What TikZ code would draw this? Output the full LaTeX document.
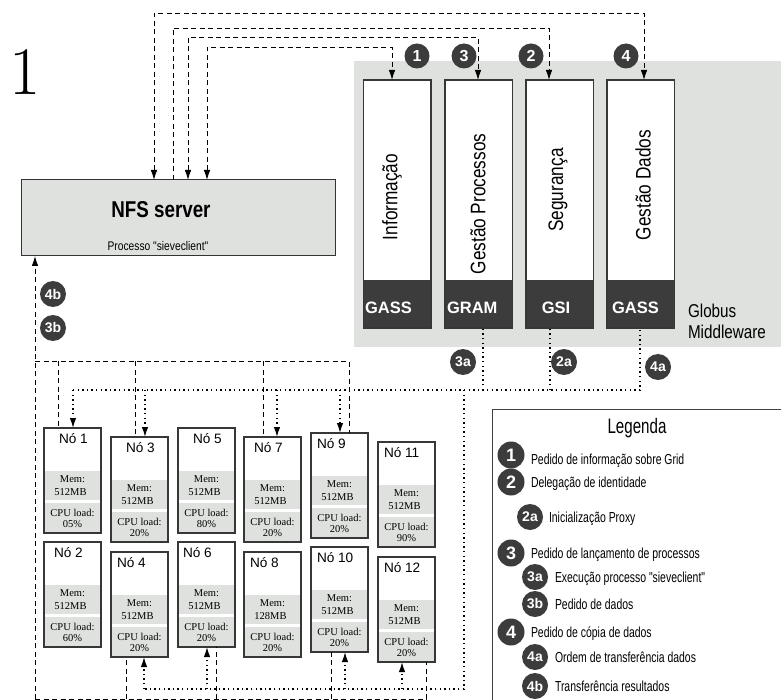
\documentclass[tikz,border=0pt]{standalone}
\usepackage{fontspec}
\usetikzlibrary{arrows.meta}
\newfontfamily\farial{Liberation Sans}
\newfontfamily\fnarrow[FakeStretch=0.82]{Liberation Sans}
\newfontfamily\fnarrower[FakeStretch=0.72]{Liberation Sans}
\newfontfamily\fserif{Liberation Serif}
\newcommand\fsz[1]{\fontsize{#1}{#1}\selectfont}
\definecolor{panel}{RGB}{222,225,222}
\definecolor{dark}{RGB}{60,60,60}
\definecolor{edge}{RGB}{55,55,55}

\tikzset{
  every node/.style={inner sep=0pt, outer sep=0pt},
  >={Latex[length=10pt,width=6.5pt]},
  dl/.style={draw=black, line width=0.9pt, dash pattern=on 5pt off 3.5pt},
  dt/.style={draw=black, line width=1.3pt, dash pattern=on 1.4pt off 3.2pt},
  frame/.style={draw=edge, line width=1.3pt},
  cbox/.style={fill=white, minimum width=57pt, minimum height=105pt, anchor=north west},
  gcol/.style={fill=white, minimum width=67.5pt, minimum height=248pt, anchor=north west},
  badge/.style={circle, fill=dark, text=white, minimum size=25pt, font=\farial\bfseries\fsz{16}},
  sbadge/.style={circle, fill=dark, text=white, minimum size=26pt, font=\farial\bfseries\fsz{14}},
  lbadge/.style={circle, fill=dark, text=white, minimum size=27pt, font=\farial\bfseries\fsz{18}},
  ntitle/.style={anchor=base west, font=\farial\fsz{13.6}},
  small/.style={anchor=base, font=\fserif\fsz{10.5}},
  coltext/.style={rotate=90, font=\fnarrow\fsz{21}},
  gl/.style={anchor=base west, text=white, font=\farial\bfseries\fsz{16.5}},
  legtext/.style={anchor=base west, font=\fnarrower\fsz{14.5}},
}

% one cluster machine: name, left, top, title, title offset, memory, load
\newcommand\cnode[7]{%
  \node[cbox] (#1) at (#2,#3) {};
  \fill[panel] ([yshift=-43pt]#1.north west) rectangle ([yshift=-72pt]#1.north east);
  \fill[panel] ([yshift=-75pt]#1.north west) rectangle (#1.south east);
  \draw[frame] (#1.north west) rectangle (#1.south east);
  \node[ntitle] (#1t) at ([xshift=#5pt,yshift=-15pt]#1.north west) {#4};
  \node[small] (#1m) at ([yshift=-54pt]#1.north) {Mem:};
  \node[small] (#1v) at ([xshift=-2pt,yshift=-67pt]#1.north) {#6};
  \node[small] (#1c) at ([yshift=-88pt]#1.north) {CPU load:};
  \node[small] (#1p) at ([yshift=-99pt]#1.north) {#7};
}

% one Globus service column with its dark protocol band
\newcommand\gnode[2]{%
  \node[gcol] (#1) at (#2,80) {};
  \fill[dark] ([yshift=-200pt]#1.north west) rectangle (#1.south east);
  \draw[draw=edge, line width=1.2pt] (#1.north west) rectangle (#1.south east);
}

\begin{document}
\begin{tikzpicture}[x=1pt,y=-1pt]
\useasboundingbox (0,0) rectangle (781,700);

% big figure number
\node[font=\fsz{68}] (fig) at (25,72) {1};

% Globus middleware panel
\node[fill=panel, minimum width=427pt, minimum height=286pt, anchor=north west] (globus) at (354,61) {};
\gnode{c1}{363.5}
\gnode{c2}{445}
\gnode{c3}{526}
\gnode{c4}{607}
\node[coltext] (c1t) at (392,197) {Informação};
\node[coltext] (c2t) at (478,204) {Gestão Processos};
\node[coltext] (c3t) at (558,190) {Segurança};
\node[coltext] (c4t) at (643,185) {Gestão Dados};
\node[gl] (c1l) at (365,313) {GASS};
\node[gl] (c2l) at (447,313) {GRAM};
\node[gl, anchor=base] (c3l) at (556,313) {GSI};
\node[gl] (c4l) at (612,313) {GASS};
\node[anchor=base west, font=\fnarrow\fsz{18.6}] (gl1) at (688,318) {Globus};
\node[anchor=base west, font=\fnarrow\fsz{18.6}] (gl2) at (688,338) {Middleware};

\node[badge] (b1) at (417,56) {1};
\node[badge] (b3) at (464,56) {3};
\node[badge] (b2) at (531,56) {2};
\node[badge] (b4) at (626,56) {4};

% NFS server
\node[fill=panel, draw=black!80, line width=1pt, minimum width=314pt, minimum height=76pt, anchor=north west] (nfs) at (21,180) {};
\node[anchor=base, font=\fnarrow\bfseries\fsz{22.9}] (nfst) at (161,218) {NFS server};
\node[anchor=base, font=\fnarrow\fsz{12.5}] (nfsp) at (158,251) {Processo "sieveclient"};

% requests from the NFS server to the Globus services
\coordinate (ka) at (154,13);
\coordinate (kb) at (173,28);
\coordinate (kc) at (188,37);
\coordinate (kd) at (207,47);
\coordinate (ga) at (644,13);
\coordinate (gb) at (549,28);
\coordinate (gc) at (478,37);
\coordinate (gd) at (392,47);
\draw[dl,<->] (ka |- nfs.north) -- (ka) -- (ga) -- (ga |- c4.north);
\draw[dl,->] (kb |- nfs.north) -- (kb) -- (gb) -- (gb |- c3.north);
\draw[dl,<->] (kc |- nfs.north) -- (kc) -- (gc) -- (gc |- c2.north);
\draw[dl,<->] (kd |- nfs.north) -- (kd) -- (gd) -- (gd |- c1.north);

% cluster machines
\cnode{n1}{44}{428}{Nó 1}{15}{512MB}{05\%}
\cnode{n2}{44}{542}{Nó 2}{10}{512MB}{60\%}
\cnode{n3}{111}{437}{Nó 3}{15}{512MB}{20\%}
\cnode{n4}{111}{552}{Nó 4}{6}{512MB}{20\%}
\cnode{n5}{178}{428}{Nó 5}{15}{512MB}{80\%}
\cnode{n6}{178}{542}{Nó 6}{5}{512MB}{20\%}
\cnode{n7}{244}{437}{Nó 7}{10}{512MB}{20\%}
\cnode{n8}{244}{552}{Nó 8}{6}{128MB}{20\%}
\cnode{n9}{311}{433}{Nó 9}{6}{512MB}{20\%}
\cnode{n10}{311}{547}{Nó 10}{6}{512MB}{20\%}
\cnode{n11}{378}{442}{Nó 11}{6}{512MB}{90\%}
\cnode{n12}{378}{557}{Nó 12}{6}{512MB}{20\%}

% dotted control network
\coordinate (q1) at (73,390);
\coordinate (q3) at (145,390);
\coordinate (q7) at (277,390);
\coordinate (q9) at (340,390);
\coordinate (qm) at (464,390);
\coordinate (qg) at (483,390);
\coordinate (qs) at (550,390);
\coordinate (qr) at (640,390);
\coordinate (qb) at (464,689);
\coordinate (u4) at (144,689);
\coordinate (u6) at (207,689);
\coordinate (u10) at (345,689);
\coordinate (u12) at (402,689);
\draw[dt] (q1) -- (qr) -- (qr |- c4.south);
\draw[dt] (qg) -- (qg |- c2.south);
\draw[dt] (qs) -- (qs |- c3.south);
\draw[dt] (qm) -- (qb) -- (u4);
\draw[dt,->] (q1) -- (q1 |- n1.north);
\draw[dt,->] (q3) -- (q3 |- n3.north);
\draw[dt,->] (q7) -- (q7 |- n7.north);
\draw[dt,->] (q9) -- (q9 |- n9.north);
\draw[dt,->] (u4) -- (u4 |- n4.south);
\draw[dt,->] (u6) -- (u6 |- n6.south);
\draw[dt,->] (u10) -- (u10 |- n10.south);
\draw[dt,->] (u12) -- (u12 |- n12.south);

% dashed data network
\coordinate (ltop) at (35,361);
\coordinate (lbot) at (35,699);
\coordinate (e1) at (58,361);
\coordinate (e3) at (135,361);
\coordinate (e7) at (263,361);
\coordinate (e9) at (349,361);
\coordinate (f4) at (126,699);
\coordinate (f6) at (216,699);
\coordinate (f10) at (331,699);
\coordinate (f12) at (426,699);
\draw[dl,->] (lbot) -- (lbot |- nfs.south);
\draw[dl] (ltop) -- (e9) -- (e9 |- n9.north);
\draw[dl] (e1) -- (e1 |- n1.north);
\draw[dl] (e3) -- (e3 |- n3.north);
\draw[dl] (e7) -- (e7 |- n7.north);
\draw[dl] (lbot) -- (f12) -- (f12 |- n12.south);
\draw[dl] (f4) -- (f4 |- n4.south);
\draw[dl] (f6) -- (f6 |- n6.south);
\draw[dl] (f10) -- (f10 |- n10.south);

% step badges along the connectors
\node[sbadge] (s4b) at (53,294) {4b};
\node[sbadge] (s3b) at (53,328) {3b};
\node[sbadge] (s3a) at (463,362) {3a};
\node[sbadge] (s2a) at (564,362) {2a};
\node[sbadge] (s4a) at (658,367) {4a};

% legend
\coordinate (lg) at (492,409);
\draw[draw=black!75, line width=1pt] (lg |- 0,700) -- (lg) -- (781,409);
\node[anchor=base, font=\fnarrower\fsz{21}] (legt) at (637,433) {Legenda};
\node[lbadge] (l1) at (511,455) {1};
\node[legtext] (t1) at (531,464) {Pedido de  informação sobre Grid};
\node[lbadge] (l2) at (511,482) {2};
\node[legtext] (t2) at (531,487) {Delegação de identidade};
\node[sbadge] (l2a) at (530,517) {2a};
\node[legtext] (t2a) at (549,522) {Inicialização Proxy};
\node[lbadge] (l3) at (511,553) {3};
\node[legtext] (t3) at (531,558) {Pedido de lançamento de processos};
\node[sbadge] (l3a) at (535,577) {3a};
\node[legtext] (t3a) at (555,582) {Execução processo "sieveclient"};
\node[sbadge] (l3b) at (535,604) {3b};
\node[legtext] (t3b) at (555,609) {Pedido de dados};
\node[lbadge] (l4) at (511,632) {4};
\node[legtext] (t4) at (531,637) {Pedido de cópia de dados};
\node[sbadge] (l4a) at (535,657) {4a};
\node[legtext] (t4a) at (555,662) {Ordem de transferência dados};
\node[sbadge] (l4b) at (535,686) {4b};
\node[legtext] (t4b) at (555,691) {Transferência resultados};
\end{tikzpicture}
\end{document}
